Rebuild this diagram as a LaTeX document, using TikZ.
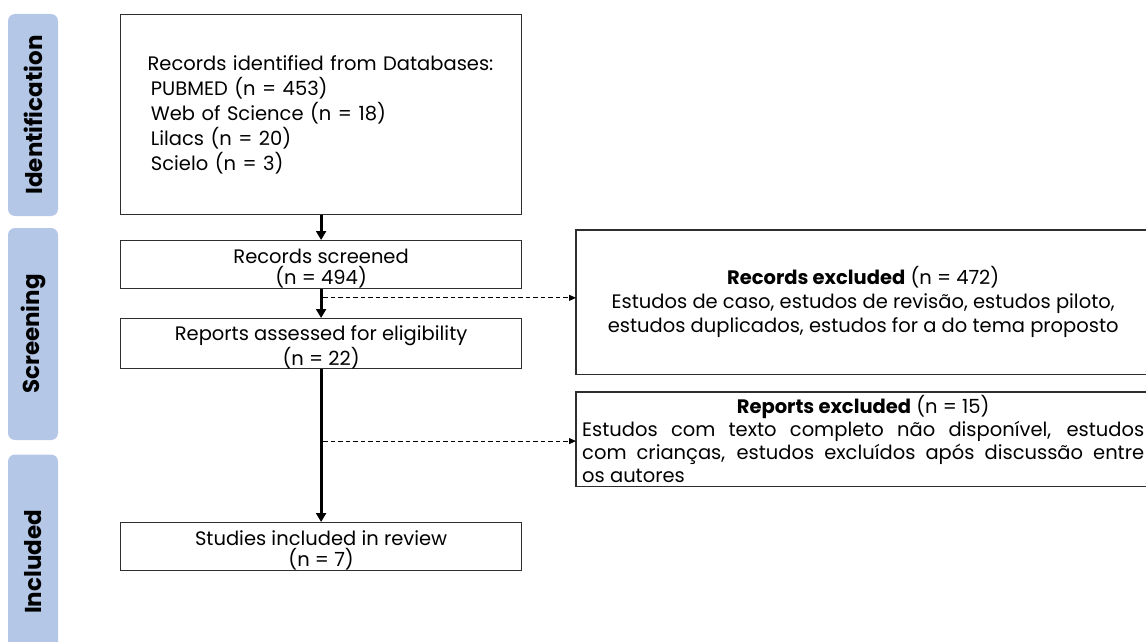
\documentclass[tikz,border=0pt]{standalone}
\usepackage{fontspec}
\setmainfont{Poppins}
\usetikzlibrary{arrows.meta,calc}
\definecolor{sideblue}{HTML}{B4C7E7}
\definecolor{boxgray}{HTML}{2E2E2E}
\newcommand{\topgap}{\rule{0pt}{22pt}}
\begin{document}
\begin{tikzpicture}[x=1pt,y=-1pt,
  box/.style={draw=boxgray, line width=1.2pt, inner sep=0pt, font=\fontsize{19.5}{21}\selectfont},
  sidebar/.style={fill=sideblue, rounded corners=7pt, rotate=90, minimum height=50pt, inner sep=0pt, font=\fontsize{23}{24}\selectfont\bfseries},
  mainarrow/.style={line width=3pt, -{Triangle[length=9pt,width=10pt]}},
  dasharrow/.style={line width=0.8pt, dash pattern=on 4.5pt off 3pt, -{Triangle[length=7pt,width=6pt]}},
]
\useasboundingbox (0,0) rectangle (1146,642);
\clip (0,0) rectangle (1146,642);
% side bars
\node[sidebar, minimum width=202pt] (sid) at (33,115) {Identification};
\node[sidebar, minimum width=212pt] (sscr) at (33,334) {Screening};
\node[sidebar, minimum width=215pt] (sinc) at (33,562) {Included};
% main boxes
\node[box, anchor=north west, minimum width=401pt, minimum height=200pt,
      text width=347pt, inner xsep=27pt, align=left, font=\fontsize{19.5}{25}\selectfont] (ident) at (120,14)
  {\mbox{Records identified from Databases:}\\
   \mbox{\,PUBMED (n = 453)}\\
   \mbox{\,Web of Science (n = 18)}\\
   \mbox{\,Lilacs (n = 20)}\\
   \mbox{\,Scielo (n = 3)}};
\node[box, anchor=north west, minimum width=401pt, minimum height=48pt, align=center] (screen) at (120,240)
  {\topgap Records screened\\(n = 494)};
\node[box, anchor=north west, minimum width=401pt, minimum height=50pt, align=center] (reports) at (120,318)
  {\topgap Reports assessed for eligibility\\(n = 22)};
\node[box, anchor=north west, minimum width=401pt, minimum height=48pt, align=center] (studies) at (120,522)
  {\topgap Studies included in review\\(n = 7)};
% right boxes
\node[anchor=north west, minimum width=574pt, minimum height=144pt, inner sep=0pt, align=center,
      font=\fontsize{19.5}{24}\selectfont] (recex) at (576,230)
  {\textbf{Records excluded} (n = 472)\\
   Estudos de caso, estudos de revisão, estudos piloto,\\
   estudos duplicados, estudos for a do tema proposto};
\draw[boxgray, line width=1.2pt] (recex.north east) -- (recex.north west) -- (recex.south west) -- (recex.south east);
\node[anchor=north west, minimum width=574pt, minimum height=94pt, inner xsep=4pt, inner ysep=0pt,
      text width=562pt, align=justify, font=\fontsize{19.5}{23}\selectfont] (repex) at (576,392)
  {{\centering\textbf{Reports excluded} (n = 15)\par}
   Estudos com texto completo não disponível, estudos\linebreak
   com crianças, estudos excluídos após discussão entre\linebreak
   os autores};
\draw[boxgray, line width=1.2pt] (repex.north east) -- (repex.north west) -- (repex.south west) -- (repex.south east);
% connectors
\draw[mainarrow] (ident.south) -- (screen.north);
\draw[mainarrow] (screen.south) -- (reports.north);
\draw[mainarrow] (reports.south) -- (studies.north);
\coordinate (d1) at ($(screen.south)!0.3!(reports.north)$);
\coordinate (d2) at ($(reports.south)!0.47!(studies.north)$);
\draw[dasharrow] ($(d1)+(2,0)$) -- (d1 -| recex.west);
\draw[dasharrow] ($(d2)+(2,0)$) -- (d2 -| repex.west);
\end{tikzpicture}
\end{document}
